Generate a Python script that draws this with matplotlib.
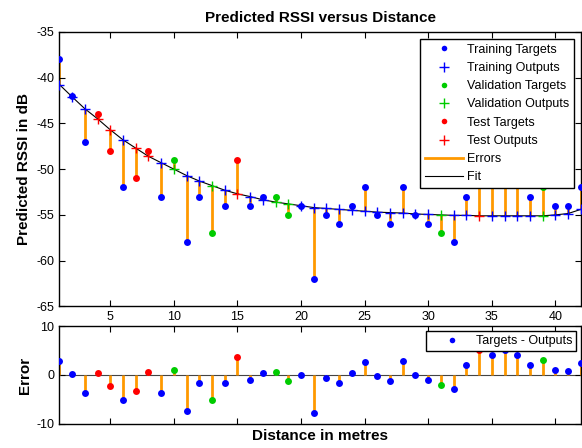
import numpy as np
import matplotlib.pyplot as plt
from matplotlib.lines import Line2D

plt.rcParams['font.family'] = ['Liberation Sans', 'DejaVu Sans']
plt.rcParams['axes.unicode_minus'] = False

# distance in metres (one sample per metre)
distance = list(range(1, 43))

targets = [-38, -42, -47, -44, -48, -52, -51, -48, -53, -49,
           -58, -53, -57, -54, -49, -54, -53, -53, -55, -54,
           -62, -55, -56, -54, -52, -55, -56, -52, -55, -56,
           -57, -58, -53, -50, -51, -50, -51, -53, -52, -54,
           -54, -52]

outputs = [-40.76, -42.1, -43.4, -44.5, -45.7, -46.8, -47.7, -48.6, -49.3, -50.0,
           -50.7, -51.3, -51.8, -52.3, -52.7, -53.0, -53.35, -53.6, -53.8, -54.0,
           -54.2, -54.3, -54.4, -54.5, -54.6, -54.7, -54.75, -54.8, -54.9, -54.95,
           -55.0, -55.05, -55.05, -55.1, -55.1, -55.1, -55.1, -55.1, -55.1, -55.0,
           -54.85, -54.4]

subset = ['train', 'train', 'train', 'test', 'test', 'train', 'test', 'test', 'train', 'val',
          'train', 'train', 'val', 'train', 'test', 'train', 'train', 'val', 'val', 'train',
          'train', 'train', 'train', 'train', 'train', 'train', 'train', 'train', 'train', 'train',
          'val', 'train', 'train', 'test', 'train', 'train', 'train', 'train', 'val', 'train',
          'train', 'train']

colors = {'train': '#0000ff', 'val': '#00cc00', 'test': '#ff0000'}
names = {'train': 'Training', 'val': 'Validation', 'test': 'Test'}
ERR_COLOR = '#ff9900'

x = np.array(distance)
t = np.array(targets)
y = np.array(outputs)
err = t - y
sub = np.array(subset)

fig = plt.figure(figsize=(5.82, 4.48), dpi=100)
ax = fig.add_axes([0.102, 0.316, 0.896, 0.613])
ax_err = fig.add_axes([0.102, 0.054, 0.896, 0.218])

# top: fit
ax.vlines(x, t, y, color=ERR_COLOR, lw=2, zorder=1)
ax.plot(x, y, color='black', lw=0.8, zorder=2)
for s in ['train', 'val', 'test']:
    m = sub == s
    ax.plot(x[m], t[m], ls='none', marker='o', ms=5, mec='none', color=colors[s], zorder=3)
    ax.plot(x[m], y[m], ls='none', marker='+', ms=7, mew=1, color=colors[s], zorder=4)

ax.set_xlim(1, 42)
ax.set_ylim(-65, -35)
ax.set_xticks([5, 10, 15, 20, 25, 30, 35, 40])
ax.set_yticks([-65, -60, -55, -50, -45, -40, -35])
ax.tick_params(direction='in', top=True, right=True, length=4, labelsize=9)
ax.set_title('Predicted RSSI versus Distance', fontweight='bold', fontsize=11, pad=7)
ax.set_ylabel('Predicted RSSI in dB', fontweight='bold', fontsize=11, labelpad=4)

handles = []
labels = []
for s in ['train', 'val', 'test']:
    handles.append(Line2D([], [], ls='none', marker='o', ms=4, mec='none', color=colors[s]))
    labels.append(names[s] + ' Targets')
    handles.append(Line2D([], [], ls='none', marker='+', ms=7, mew=1, color=colors[s]))
    labels.append(names[s] + ' Outputs')
handles.append(Line2D([], [], color=ERR_COLOR, lw=2))
labels.append('Errors')
handles.append(Line2D([], [], color='black', lw=0.8))
labels.append('Fit')
leg = ax.legend(handles, labels, loc='upper right', fontsize=9, fancybox=False,
                framealpha=1, edgecolor='black', handlelength=3.0, labelspacing=0.5,
                borderaxespad=0.55, handletextpad=0.3)
leg.get_frame().set_linewidth(1)

# bottom: errors
ax_err.axhline(0, color='#444444', lw=0.8, zorder=1)
ax_err.vlines(x, 0, err, color=ERR_COLOR, lw=2, zorder=2)
for s in ['train', 'val', 'test']:
    m = sub == s
    ax_err.plot(x[m], err[m], ls='none', marker='o', ms=5, mec='none', color=colors[s], zorder=3)

ax_err.set_xlim(1, 42)
ax_err.set_ylim(-10, 10)
ax_err.set_xticks([5, 10, 15, 20, 25, 30, 35, 40])
ax_err.set_yticks([-10, 0, 10])
ax_err.tick_params(direction='in', top=True, right=True, length=4, labelsize=9, labelbottom=False)
ax_err.set_ylabel('Error', fontweight='bold', fontsize=11, labelpad=3)
ax_err.set_xlabel('Distance in metres', fontweight='bold', fontsize=11, labelpad=4)

h_err = [Line2D([], [], ls='none', marker='o', ms=4, mec='none', color=colors['train'])]
leg2 = ax_err.legend(h_err, ['Targets - Outputs'], loc='upper right', fontsize=9, fancybox=False,
                     framealpha=1, edgecolor='black', handlelength=3.6, borderaxespad=0.4,
                     handletextpad=0.1, borderpad=0.3)
leg2.get_frame().set_linewidth(1)

for a in (ax, ax_err):
    for sp in a.spines.values():
        sp.set_linewidth(1)

fig.savefig('out.png', dpi=100)
